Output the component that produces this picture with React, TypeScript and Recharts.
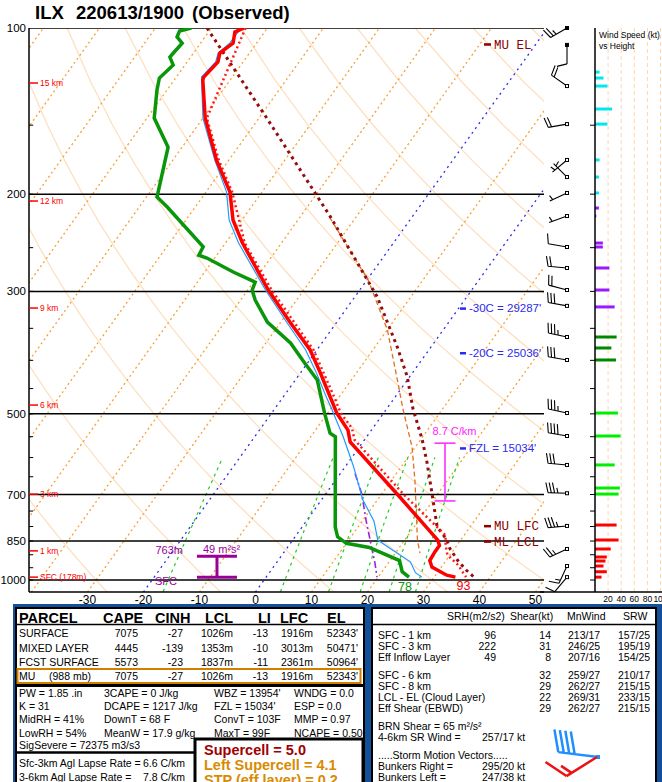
import React from "react";
import { ComposedChart, Line, Scatter, XAxis, YAxis } from "recharts";

const FONT = '"Liberation Sans", Arial, Helvetica, sans-serif';
const MONO = '"Liberation Mono", "Courier New", monospace';

// ILX 220613/1900 observed sounding: pressure (mb) and deg C
const tempP = [100, 101.7, 106.5, 111, 115.2, 122.7, 124.2, 145.6, 173.5, 198.3, 222.7, 245, 298, 342, 383, 421, 466, 499, 535, 562, 700, 846.5, 865.8, 889.4, 921.9, 947, 980, 988];
const tempC = [-74.2, -75.3, -74.2, -75.3, -74.5, -75.1, -74.9, -69.6, -62.2, -55.7, -51.6, -47.0, -36.4, -28.2, -21.2, -16.5, -11.6, -8.3, -4.2, -2.3, 12.9, 25.9, 26.9, 26.9, 27.1, 28.3, 32.0, 33.8];

const dewP = [100, 101.3, 103.8, 106.5, 111, 112.9, 116.7, 123.2, 129.5, 145.6, 164.4, 202.4, 211, 249, 258, 261, 276.7, 288.6, 298.5, 311, 341, 372, 400, 434, 499, 542, 550, 801, 835, 858, 873, 922, 966, 988];
const dewC = [-83.6, -85.3, -85.0, -83.3, -83.6, -83.7, -82.1, -82.9, -81.8, -78.7, -72.5, -68.1, -65.0, -53.5, -53.2, -51.4, -44.9, -39.7, -39.2, -37.4, -32.4, -25.6, -21.2, -16.1, -10.5, -7.0, -5.6, 5.9, 7.6, 10.0, 14.6, 21.7, 23.6, 25.5];

const wbP = [100, 106.5, 111, 115.2, 122.7, 145.6, 173.5, 198.3, 222.7, 245, 298, 342, 383, 421, 466, 485, 550, 622, 716, 782.3, 846.5, 876, 927, 970, 988];
const wbC = [-74.7, -74.8, -75.6, -74.9, -75.5, -70.0, -62.5, -56.3, -52.3, -47.7, -36.9, -28.8, -22.0, -17.2, -12.3, -10.3, -4.2, 1.4, 7.4, 12.1, 15.2, 18.4, 23.8, 26.1, 27.8];

const vtP = [100, 145.6, 173.5, 198.3, 245, 298, 383, 466, 499, 531, 557, 700, 830, 865.8, 900, 939, 988];
const vtC = [-73.9, -69.3, -61.8, -55.3, -46.6, -35.8, -20.6, -10.9, -7.6, -3.7, -1.8, 14.0, 26.7, 28.0, 29.5, 32.7, 35.7];

const parcelP = [100, 145.6, 219.8, 307, 378.5, 428.6, 488.5, 557, 613, 693, 801, 844, 876, 922, 959, 988];
const parcelC = [-80.8, -58.6, -34.6, -16.0, -6.0, -0.4, 4.6, 10.3, 14.1, 18.7, 24.1, 27.4, 29.1, 32.1, 34.8, 37.1];

const mlParcelP = [219.8, 252.6, 286, 352, 439.5, 488.5, 574, 660, 847, 894];
const mlParcelC = [-34.8, -26.9, -19.8, -10.0, -1.3, 2.8, 9.4, 14.2, 22.3, 24.4];

const downP = [641, 696, 782, 872, 931, 988];
const downC = [2.6, 6.3, 10.7, 15.0, 17.6, 19.8];

// winds
const barbP = [100, 107.3, 127.4, 149.3, 173.4, 186.2, 199.0, 219.1, 249.3, 272.1, 298.3, 318.7, 362.9, 399.4, 498.3, 548.4, 618.8, 696.3, 798.0, 878.6, 943.3, 988];
const barbDir = [240, 180, 305, 260, 230, 315, 245, 250, 280, 275, 285, 280, 282, 280, 282, 280, 275, 272, 265, 245, 205, 220];
const barbKt = [25, 10, 20, 20, 5, 5, 5, 5, 10, 20, 20, 30, 35, 30, 35, 40, 30, 35, 35, 25, 15, 10];

const speedP = [120.2, 123.2, 127.4, 140.2, 149.3, 173.4, 186.2, 199.0, 211.9, 219.1, 245.2, 249.3, 272.1, 298.3, 320.1, 362.9, 379.9, 399.4, 498.3, 548.4, 618.8, 681.3, 698.7, 795.0, 846.3, 878.6, 908.4, 923.8, 943.3, 966, 988];
const speedKt = [7, 13, 19, 26, 19, 7, 6, 6, 6, 2, 12, 12, 22, 22, 30, 33, 25, 32, 35, 39, 30, 38, 36, 33, 36, 24, 18, 16, 13, 18, 10];

// axes / reference values
const pLabels = [100, 200, 300, 500, 700, 850, 1000];
const tLabels = [-30, -20, -10, 0, 10, 20, 30, 40, 50];
const spdLabels = [20, 40, 60, 80, 100];
const kmP = [125.8, 205.8, 321.6, 482, 699, 885.5, 988];
const kmText = ["15 km", "12 km", "9 km", "6 km", "3 km", "1 km", "SFC (178m)"];
const isoTemps = [-110, -100, -90, -80, -70, -60, -50, -40, -30, -20, -10, 0, 10, 20, 30, 40, 50];
const thetas = [-30, -10, 10, 30, 50, 70, 90, 110, 130, 150, 170, 190, 210];
const mixRatios = [1, 5, 9, 13, 18, 24];

// skew-T geometry
const LOG_BOTTOM = 3.0217;
const SKEW = 70.6;
const X_MIN = -40.45;
const X_MAX = 51.52;
const SPD_MAX = 102.3;

const lp = (p) => Math.log10(p);
const pt = (p, t) => ({ x: t + SKEW * (LOG_BOTTOM - lp(p)), y: lp(p) });
const prof = (ps, ts) => ps.map((p, i) => pt(p, ts[i]));
const range = (a, b, s) => {
  const out = [];
  for (let v = a; s > 0 ? v <= b : v >= b; v += s) out.push(v);
  return out;
};
const gridP = range(1050, 100, -25);
const tickP = range(150, 1000, 50);
const tdFromW = (w, p) => {
  const e = (w * p) / (622 + w);
  const a = Math.log(e / 6.112);
  return (243.5 * a) / (17.67 - a);
};
const toF = (c) => Math.round((c * 9) / 5 + 32);

const bandColor = (p) => {
  if (p > 705) return "#ff0000";
  if (p > 482) return "#00ee00";
  if (p > 321.6) return "#008800";
  if (p > 205.8) return "#9a1aff";
  return "#00e8ee";
};

const ln = (key, data, stroke, width, dash?) => (
  <Line
    key={key}
    data={data}
    dataKey="y"
    stroke={stroke}
    strokeWidth={width}
    strokeDasharray={dash}
    dot={false}
    activeDot={false}
    isAnimationActive={false}
  />
);

const barbPath = (cx, cy, dir, spd, len, flen, gap, tilt) => {
  const r = (dir * Math.PI) / 180;
  const ux = Math.sin(r);
  const uy = -Math.cos(r);
  const px = -uy;
  const py = ux;
  const tx = cx + ux * len;
  const ty = cy + uy * len;
  let d = `M${cx} ${cy}L${tx} ${ty}`;
  let rem = Math.round(spd / 5) * 5;
  let k = 0;
  while (rem >= 10) {
    const bx = tx - ux * gap * k;
    const by = ty - uy * gap * k;
    d += `M${bx} ${by}l${(px + ux * tilt) * flen} ${(py + uy * tilt) * flen}`;
    k++;
    rem -= 10;
  }
  if (rem >= 5) {
    if (k === 0) k = 1;
    const bx = tx - ux * gap * k;
    const by = ty - uy * gap * k;
    d += `M${bx} ${by}l${((px + ux * tilt) * flen) / 2} ${((py + uy * tilt) * flen) / 2}`;
  }
  return d;
};

const note = (key, x, p, render) => (
  <Scatter
    key={key}
    data={[{ x, y: lp(p) }]}
    shape={(s) => render(s.cx, s.cy)}
    isAnimationActive={false}
  />
);

const ibar = (key, x, p1, p2, half, color, width) => [
  ln(key + "v", [{ x, y: lp(p1) }, { x, y: lp(p2) }], color, width),
  ln(key + "t", [{ x: x - half, y: lp(p1) }, { x: x + half, y: lp(p1) }], color, width),
  ln(key + "b", [{ x: x - half, y: lp(p2) }, { x: x + half, y: lp(p2) }], color, width),
];

const SkewT = () => {
  const sfcT = tempC[tempC.length - 1];
  const sfcTd = dewC[dewC.length - 1];
  return (
    <ComposedChart width={662} height={610} margin={{ top: 28, right: 118, bottom: 0, left: 0 }}>
      <XAxis
        type="number"
        dataKey="x"
        domain={[X_MIN, X_MAX]}
        allowDataOverflow
        ticks={tLabels}
        interval={0}
        height={18}
        tickLine={false}
        tickSize={0}
        tickMargin={3}
        axisLine={{ stroke: "#000", strokeWidth: 1.5 }}
        tick={{ fill: "#000", fontSize: 12, fontFamily: FONT }}
      />
      <YAxis
        type="number"
        dataKey="y"
        domain={[2, LOG_BOTTOM]}
        reversed
        allowDataOverflow
        ticks={pLabels.map(lp)}
        interval={0}
        tickFormatter={(v) => String(Math.round(Math.pow(10, v)))}
        width={29}
        tickLine={false}
        tickSize={0}
        tickMargin={3}
        axisLine={{ stroke: "#000", strokeWidth: 1.5 }}
        tick={{ fill: "#000", fontSize: 11.5, fontFamily: FONT }}
      />

      {thetas.map((th) =>
        ln("th" + th, gridP.map((p) => pt(p, (th + 273.15) * Math.pow(p / 1000, 0.2857) - 273.15)), "#fde0c0", 1.3)
      )}
      {isoTemps.map((t) =>
        t === 0 || t === -20
          ? ln("iso" + t, [pt(1052, t), pt(100, t)], "#2b2bf0", 1.3, "2 4")
          : ln("iso" + t, [pt(1052, t), pt(100, t)], "#f6a035", 1.3, "2 3")
      )}
      {mixRatios.map((w) =>
        ln("w" + w, range(1050, 600, -50).map((p) => pt(p, tdFromW(w, p))), "#22cc22", 1.2, "3 4")
      )}
      {pLabels.map((p) => ln("pl" + p, [{ x: X_MIN, y: lp(p) }, { x: X_MAX, y: lp(p) }], "#000", 1.5))}
      {tickP.map((p) => ln("tk" + p, [{ x: X_MIN, y: lp(p) }, { x: X_MIN + 0.75, y: lp(p) }], "#000", 1))}

      {kmP.map((p, i) =>
        note("km" + i, X_MIN, p, (cx, cy) => (
          <g>
            <line x1={cx} x2={cx + 9} y1={cy} y2={cy} stroke="#ff0000" strokeWidth={1.5} />
            <text x={cx + 11} y={cy + 3} fontSize={8.5} fill="#ff0000" fontFamily={FONT}>
              {kmText[i]}
            </text>
          </g>
        ))
      )}

      {ln("mlpcl", prof(mlParcelP, mlParcelC), "#e07020", 1.3, "5 3")}
      {ln("down", prof(downP, downC), "#a020e0", 1.6, "7 3 2 3")}
      {ln("pcl", prof(parcelP, parcelC), "#960c0c", 3, "3 4")}
      {ln("wb", prof(wbP, wbC), "#1e9bff", 1.2)}
      {ln("td", prof(dewP, dewC), "#0a960a", 3.5)}
      {ln("vt", prof(vtP, vtC), "#ff1a1a", 2.5, "2 3")}
      {ln("t", prof(tempP, tempC), "#ff0000", 3.5)}

      {ibar("lapse", 33.84, 565, 719, 1.875, "#ff22ff", 1.5)}
      {ibar("eil", -6.88, 905.7, 988, 3.57, "#990099", 3)}

      {note("lapseTxt", 33.84, 565, (cx, cy) => (
        <text x={cx + 9.5} y={cy - 8} textAnchor="middle" fontSize={11} fill="#ff22ff" fontFamily={FONT}>
          8.7 C/km
        </text>
      ))}
      {note("eilTop", -6.88, 905.7, (cx, cy) => (
        <g fontFamily={FONT} fill="#990099" fontSize={11}>
          <text x={cx - 34} y={cy - 2} textAnchor="end">763m</text>
          <text x={cx - 14} y={cy - 3}>49 m²s²</text>
        </g>
      ))}
      {note("eilBot", -6.88, 988, (cx, cy) => (
        <text x={cx - 40} y={cy + 8} textAnchor="end" fontSize={11} fill="#990099" fontFamily={FONT}>
          SFC
        </text>
      ))}

      {[
        [107, "MU EL"],
        [798, "MU LFC"],
        [851, "ML LCL"],
      ].map(([p, s]) =>
        note("pn" + s, 40.8, p, (cx, cy) => (
          <g>
            <rect x={cx} y={cy - 1} width={7} height={2.5} fill="#8b0000" />
            <text x={cx + 10} y={cy + 4.5} fontSize={12.5} fill="#8b0000" fontFamily={MONO}>
              {s}
            </text>
          </g>
        ))
      )}
      {[
        [322, "-30C = 29287'"],
        [387.9, "-20C = 25036'"],
        [577, "FZL = 15034'"],
      ].map(([p, s]) =>
        note("hn" + s, 36.52, p, (cx, cy) => (
          <g>
            <rect x={cx} y={cy - 1} width={6} height={2.5} fill="#2b2bf0" />
            <text x={cx + 9} y={cy + 4} fontSize={11.5} fill="#2b2bf0" fontFamily={FONT}>
              {s}
            </text>
          </g>
        ))
      )}

      {note("tdSfc", pt(988, sfcTd).x, 988, (cx, cy) => (
        <text x={cx - 4} y={cy + 14} textAnchor="middle" fontSize={12.5} fill="#0a960a" fontFamily={FONT}>
          {toF(sfcTd)}
        </text>
      ))}
      {note("tSfc", pt(988, sfcT).x, 988, (cx, cy) => (
        <text x={cx + 8} y={cy + 13} textAnchor="middle" fontSize={12.5} fill="#ff0000" fontFamily={FONT}>
          {toF(sfcT)}
        </text>
      ))}
    </ComposedChart>
  );
};

const Barbs = () => {
  const data = barbP.map((p, i) => ({ x: 27, y: lp(p), dir: barbDir[i], kt: barbKt[i] }));
  return (
    <ComposedChart width={55} height={610} margin={{ top: 28, right: 0, bottom: 0, left: 0 }}>
      <XAxis type="number" dataKey="x" domain={[0, 55]} height={18} tick={false} tickLine={false} axisLine={{ stroke: "#000", strokeWidth: 1.5 }} />
      <YAxis type="number" dataKey="y" domain={[2, LOG_BOTTOM]} reversed hide />
      <Scatter
        data={data}
        isAnimationActive={false}
        shape={(s) => (
          <g>
            <path d={barbPath(s.cx, s.cy, s.payload.dir, s.payload.kt, 19, 10, 3.3, 0.25)} stroke="#000" strokeWidth={1.1} fill="none" />
            <rect x={s.cx - 1.5} y={s.cy - 1.5} width={3} height={3} fill={s.payload.y < 2.05 ? "#000" : "#fff"} stroke="#000" strokeWidth={1} />
          </g>
        )}
      />
    </ComposedChart>
  );
};

const SpeedPanel = () => (
  <ComposedChart width={77} height={610} margin={{ top: 28, right: 0, bottom: 0, left: 0 }}>
    <XAxis
      type="number"
      dataKey="x"
      domain={[0, SPD_MAX]}
      ticks={spdLabels}
      interval={0}
      height={18}
      tickLine={false}
      tickSize={0}
      tickMargin={4}
      axisLine={{ stroke: "#000", strokeWidth: 1.5 }}
      tick={{ fill: "#000", fontSize: 8.5, fontFamily: FONT }}
    />
    <YAxis
      type="number"
      dataKey="y"
      domain={[2, LOG_BOTTOM]}
      reversed
      ticks={tickP.map(lp)}
      interval={0}
      width={10}
      tickSize={5}
      tickLine={{ stroke: "#000" }}
      axisLine={{ stroke: "#000", strokeWidth: 1.5 }}
      tickFormatter={() => ""}
    />
    {spdLabels.map((v) => ln("sg" + v, [{ x: v, y: 2 }, { x: v, y: LOG_BOTTOM }], "#ffd6aa", 1, "4 3"))}
    {speedP.map((p, i) => ln("sp" + i, [{ x: 0, y: lp(p) }, { x: speedKt[i], y: lp(p) }], bandColor(p), 3))}
  </ComposedChart>
);

const tx = (x, y, s, extra = {}) => (
  <text x={x} y={y} {...extra}>
    {s}
  </text>
);

const Panel = () => {
  const parcelRows = [
    ["SURFACE", "7075", "-27", "1026m", "-13", "1916m", "52343'"],
    ["MIXED LAYER", "4445", "-139", "1353m", "-10", "3013m", "50471'"],
    ["FCST SURFACE", "5573", "-23", "1837m", "-11", "2361m", "50964'"],
    ["MU", "7075", "-27", "1026m", "-13", "1916m", "52343'"],
  ];
  const rowY = [637, 652, 666, 680];
  const colEnd = [138, 183, 233, 268, 313, 358];
  const idx = [
    ["PW = 1.85 .in", "3CAPE = 0 J/kg", "WBZ = 13954'", "WNDG = 0.0"],
    ["K = 31", "DCAPE = 1217 J/kg", "FZL = 15034'", "ESP = 0.0"],
    ["MidRH = 41%", "DownT = 68 F", "ConvT = 103F", "MMP = 0.97"],
    ["LowRH = 54%", "MeanW = 17.9 g/kg", "MaxT = 99F", "NCAPE = 0.50"],
    ["SigSevere = 72375 m3/s3", "", "", ""],
  ];
  const idxY = [697, 710, 723, 737, 749];
  const idxX = [19, 104, 214, 294];
  const shear = [
    [639, "SFC - 1 km", "96", "14", "213/17", "157/25"],
    [650, "SFC - 3 km", "222", "31", "246/25", "195/19"],
    [661, "Eff Inflow Layer", "49", "8", "207/16", "154/25"],
    [679, "SFC - 6 km", "", "32", "259/27", "210/17"],
    [690, "SFC - 8 km", "", "29", "262/27", "215/15"],
    [701, "LCL - EL (Cloud Layer)", "", "22", "269/31", "233/15"],
    [712, "Eff Shear (EBWD)", "", "29", "262/27", "215/15"],
  ];
  return (
    <svg width={662} height={782} style={{ position: "absolute", left: 0, top: 0 }} fontFamily={FONT}>
      <g fontWeight="bold" fontSize={18.5} fill="#000">
        {tx(35, 19, "ILX")}
        {tx(76, 19, "220613/1900")}
        {tx(192, 19, "(Observed)")}
      </g>
      <g fontSize={8.5} fill="#000">
        {tx(599, 38, "Wind Speed (kt)")}
        {tx(599, 49, "vs Height")}
      </g>

      <rect x={13} y={604} width={649} height={178} fill="#12509a" />
      <rect x={16} y={608} width={348} height={180} fill="#fff" stroke="#000" strokeWidth={2} />
      <line x1={16} x2={364} y1={624.5} y2={624.5} stroke="#000" strokeWidth={1.5} />
      <rect x={17.5} y={669} width={343} height={14} fill="none" stroke="#d08000" strokeWidth={2} />
      <line x1={16} x2={364} y1={685.5} y2={685.5} stroke="#000" strokeWidth={3} />
      <line x1={16} x2={195} y1={752.5} y2={752.5} stroke="#000" strokeWidth={2.5} />
      <rect x={195} y={739} width={168} height={60} fill="#fff" stroke="#000" strokeWidth={3} />
      <rect x={372} y={608} width={284} height={180} fill="#fff" stroke="#000" strokeWidth={2} />
      <line x1={372} x2={656} y1={624.5} y2={624.5} stroke="#000" strokeWidth={1.5} />

      <g fontSize={14.5} fontWeight="bold" fill="#000">
        {tx(19, 623, "PARCEL")}
        {tx(103, 623, "CAPE")}
        {tx(155, 623, "CINH")}
        {tx(205, 623, "LCL")}
        {tx(258, 623, "LI")}
        {tx(280, 623, "LFC")}
        {tx(327, 623, "EL")}
      </g>
      <g fontSize={10.5} fill="#000">
        {parcelRows.map((r, i) => (
          <g key={"pr" + i}>
            {tx(19, rowY[i], r[0])}
            {i === 3 ? tx(49, rowY[i], "(988 mb)") : null}
            {r.slice(1).map((v, j) => tx(colEnd[j], rowY[i], v, { textAnchor: "end", key: j }))}
          </g>
        ))}
        {idx.map((r, i) => (
          <g key={"ix" + i}>{r.map((v, j) => (v ? tx(idxX[j], idxY[i], v, { key: j }) : null))}</g>
        ))}
        {tx(19, 767, "Sfc-3km Agl Lapse Rate =")}
        {tx(143, 767, "6.6 C/km")}
        {tx(19, 781, "3-6km Agl Lapse Rate =")}
        {tx(143, 781, "7.8 C/km")}

        {tx(447, 620, "SRH(m2/s2)")}
        {tx(510, 620, "Shear(kt)")}
        {tx(567, 620, "MnWind")}
        {tx(623, 620, "SRW")}
        {shear.map((r, i) => (
          <g key={"sh" + i}>
            {tx(378, r[0], r[1])}
            {tx(496, r[0], r[2], { textAnchor: "end" })}
            {tx(551, r[0], r[3], { textAnchor: "end" })}
            {tx(568, r[0], r[4])}
            {tx(618, r[0], r[5])}
          </g>
        ))}
        {tx(378, 730, "BRN Shear =  65 m²/s²")}
        {tx(378, 741, "4-6km SR Wind =")}
        {tx(482, 741, "257/17 kt")}
        {tx(378, 759, ".....Storm Motion Vectors.....")}
        {tx(378, 770, "Bunkers Right =")}
        {tx(482, 770, "295/20 kt")}
        {tx(378, 781, "Bunkers Left =")}
        {tx(482, 781, "247/38 kt")}
      </g>
      <g fontSize={14.5} fontWeight="bold">
        {tx(204, 755, "Supercell = 5.0", { fill: "#a00000" })}
        {tx(204, 770, "Left Supercell = 4.1", { fill: "#d98b00" })}
        {tx(204, 785, "STP (eff layer) = 0.2", { fill: "#d98b00" })}
      </g>

      <path d={barbPath(598, 757, 277, 40, 40, 22, 5.5, 0.3)} stroke="#1f8fff" strokeWidth={2.5} fill="none" />
      <rect x={596} y={755} width={4} height={4} fill="#1f8fff" />
      <path d={barbPath(597, 757, 238, 15, 36, 23, 6, 0.45)} stroke="#ee1111" strokeWidth={2.5} fill="none" />
    </svg>
  );
};

export default function App() {
  return (
    <div style={{ position: "absolute", left: 0, top: 0, width: 662, height: 782, background: "#fff", overflow: "hidden", fontFamily: FONT }}>
      <div style={{ position: "absolute", left: 0, top: 0 }}>
        <SkewT />
      </div>
      <div style={{ position: "absolute", left: 540, top: 0 }}>
        <Barbs />
      </div>
      <div style={{ position: "absolute", left: 585, top: 0 }}>
        <SpeedPanel />
      </div>
      <Panel />
    </div>
  );
}
